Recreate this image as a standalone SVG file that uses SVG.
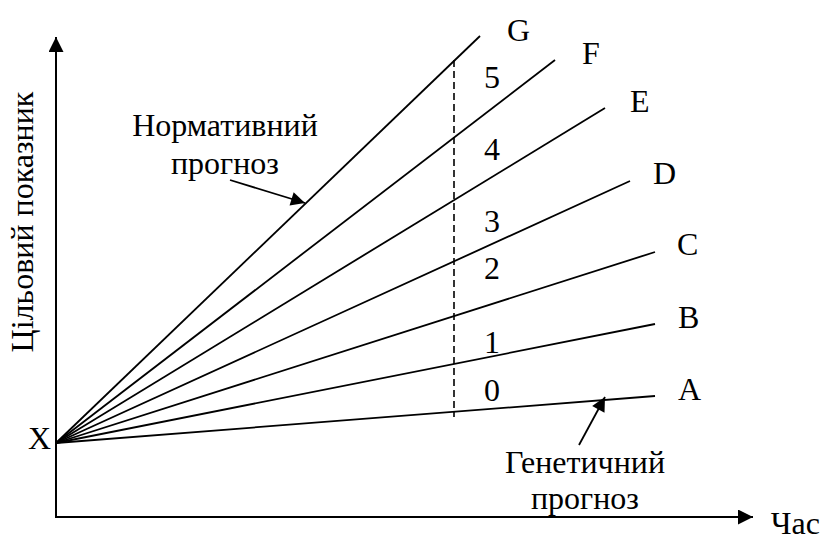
<svg xmlns="http://www.w3.org/2000/svg" width="822" height="543" viewBox="0 0 822 543">
<style>
text{font-family:"Liberation Serif","Times New Roman",serif;font-size:32px;fill:#000}
.ln{stroke:#000;stroke-width:1.8;fill:none}
.ax{stroke:#000;stroke-width:2;fill:none}
.ds{stroke:#000;stroke-width:1.6;stroke-dasharray:7 4;fill:none}
</style>
<defs>
<marker id="axh" viewBox="0 0 10 10" refX="10" refY="5" markerWidth="15" markerHeight="15" markerUnits="userSpaceOnUse" orient="auto">
<path d="M0,0 L10,5 L0,10 Z" fill="#000"/>
</marker>
<marker id="pa" viewBox="0 0 10 10" refX="10" refY="5" markerWidth="16" markerHeight="14" markerUnits="userSpaceOnUse" orient="auto">
<path d="M0,0 L10,5 L0,10 Z" fill="#000"/>
</marker>
</defs>
<g id="axes">
<line class="ax" x1="56" y1="517" x2="56" y2="37" marker-end="url(#axh)"/>
<line class="ax" x1="55" y1="517" x2="753" y2="517" marker-end="url(#axh)"/>
<text x="0" y="0" transform="translate(33,222) rotate(-90)" text-anchor="middle">Цільовий показник</text>
<text x="820" y="534" text-anchor="end">Час</text>
</g>
<g id="connectors">
<line class="ln" x1="56" y1="443" x2="480" y2="36"/>
<line class="ln" x1="56" y1="443" x2="555" y2="60"/>
<line class="ln" x1="56" y1="443" x2="605" y2="108"/>
<line class="ln" x1="56" y1="443" x2="630" y2="181"/>
<line class="ln" x1="56" y1="443" x2="655" y2="252"/>
<line class="ln" x1="56" y1="443" x2="655" y2="324"/>
<line class="ln" x1="56" y1="443" x2="655" y2="396"/>
<line class="ds" x1="454" y1="60" x2="454" y2="417"/>
<line class="ln" x1="230" y1="180" x2="305" y2="203" marker-end="url(#pa)"/>
<line class="ln" x1="579" y1="445" x2="605" y2="397" marker-end="url(#pa)"/>
</g>
<g id="origin"><text x="51" y="449" text-anchor="end">X</text></g>
<g id="labels">
<text x="507" y="41">G</text>
<text x="582" y="64">F</text>
<text x="630" y="112">E</text>
<text x="653" y="184">D</text>
<text x="677" y="255">C</text>
<text x="678" y="328">B</text>
<text x="678" y="400">A</text>
</g>
<g id="numbers">
<text x="484" y="88">5</text>
<text x="484" y="160">4</text>
<text x="484" y="232">3</text>
<text x="484" y="279">2</text>
<text x="484" y="353">1</text>
<text x="484" y="401">0</text>
</g>
<g id="normative">
<text x="225" y="136" text-anchor="middle">Нормативний</text>
<text x="225" y="174" text-anchor="middle">прогноз</text>
</g>
<g id="genetic">
<text x="585" y="473" text-anchor="middle">Генетичний</text>
<text x="585" y="509" text-anchor="middle">прогноз</text>
</g>
</svg>
